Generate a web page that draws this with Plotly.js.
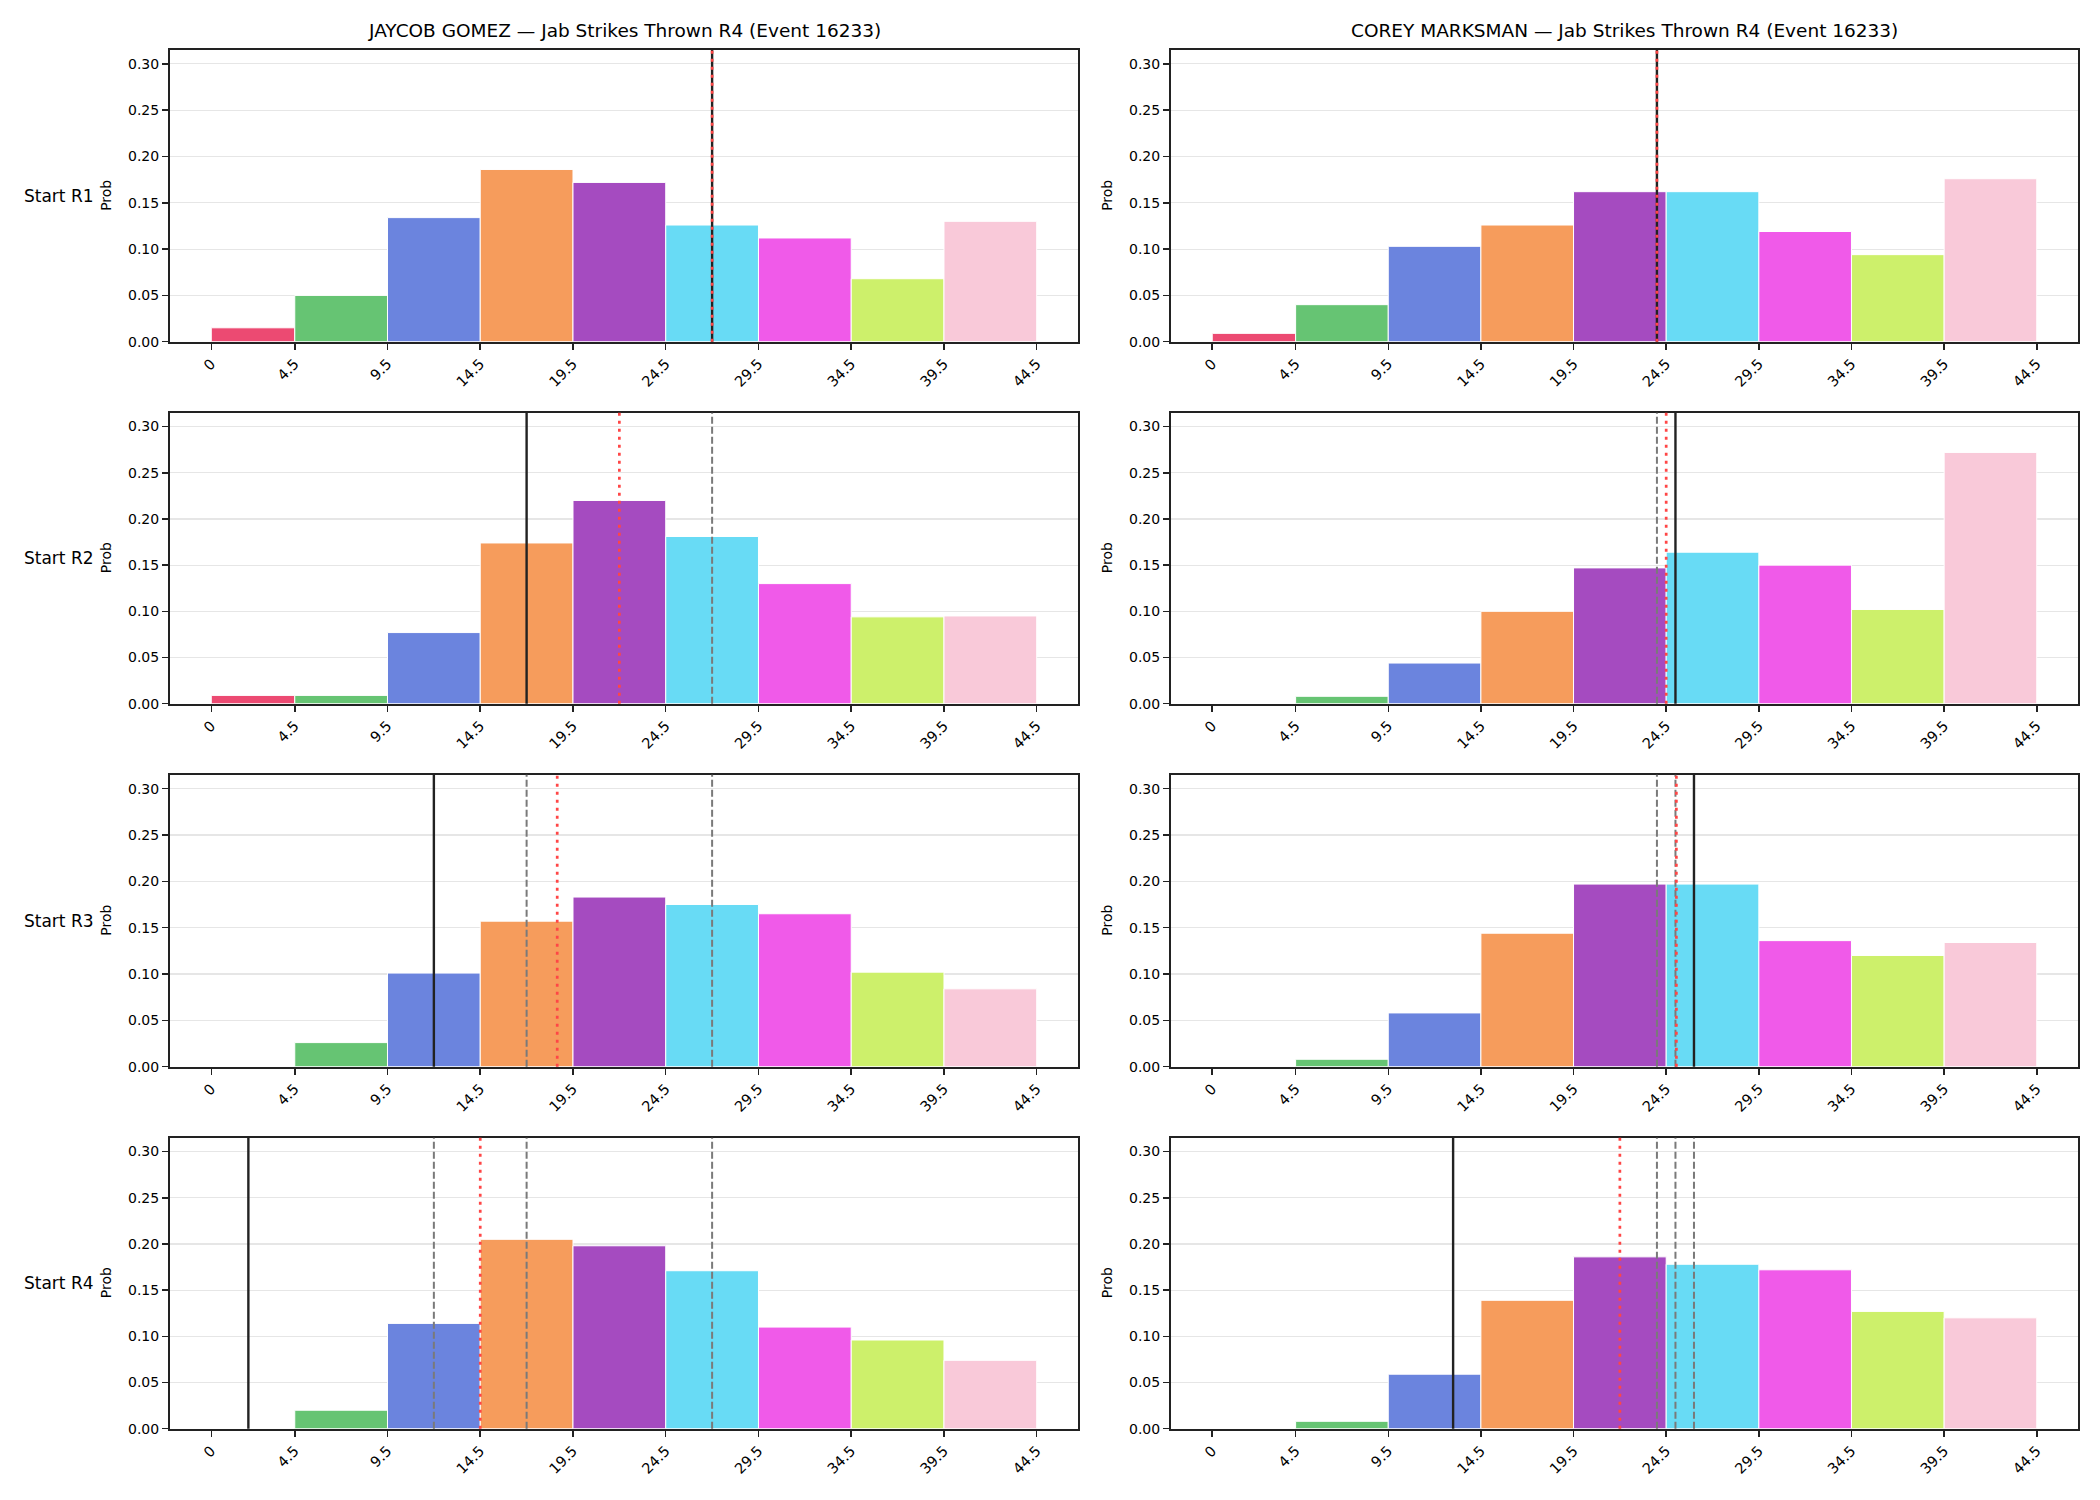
<!DOCTYPE html>
<html>
<head>
<meta charset="utf-8">
<script src="https://cdn.plot.ly/plotly-3.0.1.min.js"></script>
<style>
  html, body { margin: 0; padding: 0; background: #ffffff; }
  #chart { width: 2100px; height: 1500px; }
</style>
</head>
<body>
<div id="chart"></div>
<script>
// Bin edges of the jab-count histogram and their tick labels
const binEdges = [0, 4.5, 9.5, 14.5, 19.5, 24.5, 29.5, 34.5, 39.5, 44.5];
const tickLabels = ['0', '4.5', '9.5', '14.5', '19.5', '24.5', '29.5', '34.5', '39.5', '44.5'];
const binColors = ['#ec4a72', '#66c473', '#6b84de', '#f69c5c', '#a54bc0',
                   '#68dbf5', '#f05ae9', '#cdf06b', '#f9c9d9'];

const fighterNames = ['JAYCOB GOMEZ', 'COREY MARKSMAN'];
const roundLabels = ['Start R1', 'Start R2', 'Start R3', 'Start R4'];
const chartSubtitle = 'Jab Strikes Thrown R4 (Event 16233)';

// Probability per bin, one array per fighter and starting round
const gomezR1 = [0.015, 0.050, 0.134, 0.186, 0.172, 0.126, 0.112, 0.068, 0.130];
const gomezR2 = [0.009, 0.009, 0.077, 0.174, 0.220, 0.181, 0.130, 0.094, 0.095];
const gomezR3 = [0.000, 0.026, 0.101, 0.157, 0.183, 0.175, 0.165, 0.102, 0.084];
const gomezR4 = [0.000, 0.020, 0.114, 0.205, 0.198, 0.171, 0.110, 0.096, 0.074];

const marksmanR1 = [0.009, 0.040, 0.103, 0.126, 0.162, 0.162, 0.119, 0.094, 0.176];
const marksmanR2 = [0.000, 0.008, 0.044, 0.100, 0.147, 0.164, 0.150, 0.102, 0.272];
const marksmanR3 = [0.000, 0.008, 0.058, 0.144, 0.197, 0.197, 0.136, 0.120, 0.134];
const marksmanR4 = [0.000, 0.008, 0.059, 0.139, 0.186, 0.178, 0.172, 0.127, 0.120];

// Projected jab totals at the start of each round (solid), earlier ones shown dashed
const gomezProjection = [27, 17, 12, 2];
const marksmanProjection = [24, 25, 26, 13];
// Reference marker per round (dotted red)
const gomezMarker = [27, 22, 18.65, 14.5];
const marksmanMarker = [24, 24.5, 25.05, 22];

const probs = [
  [gomezR1, gomezR2, gomezR3, gomezR4],
  [marksmanR1, marksmanR2, marksmanR3, marksmanR4]
];
const projections = [gomezProjection, marksmanProjection];
const markers = [gomezMarker, marksmanMarker];

const W = 2100, H = 1500;
const FONT = 'DejaVu Sans, sans-serif';
// Panel geometry in pixels
const colX = [[170, 1078], [1171, 2078]];
const rowY = [[50, 341.7], [412.7, 703.7], [774.7, 1066.7], [1137.7, 1428.7]];

const centers = binEdges.slice(0, -1).map((e, i) => (e + binEdges[i + 1]) / 2);
const widths = binEdges.slice(0, -1).map((e, i) => binEdges[i + 1] - e);

const data = [];
const layout = {
  width: W, height: H,
  margin: {l: 0, r: 0, t: 0, b: 0},
  paper_bgcolor: '#ffffff',
  plot_bgcolor: '#ffffff',
  showlegend: false,
  bargap: 0,
  font: {family: FONT, size: 14, color: '#000000'},
  shapes: [],
  annotations: []
};

let n = 0;
for (let r = 0; r < 4; r++) {
  for (let c = 0; c < 2; c++) {
    n++;
    const xa = n === 1 ? 'xaxis' : 'xaxis' + n;
    const ya = n === 1 ? 'yaxis' : 'yaxis' + n;
    const xr = n === 1 ? 'x' : 'x' + n;
    const yr = n === 1 ? 'y' : 'y' + n;

    data.push({
      type: 'bar',
      x: centers,
      y: probs[c][r],
      width: widths,
      xaxis: xr, yaxis: yr,
      marker: {color: binColors, line: {color: '#ffffff', width: 1}},
      hoverinfo: 'x+y'
    });

    layout[xa] = {
      domain: [colX[c][0] / W, colX[c][1] / W],
      anchor: yr,
      range: [-2.225, 46.725],
      tickmode: 'array',
      tickvals: binEdges,
      ticktext: tickLabels,
      tickangle: -45,
      ticks: 'outside', ticklen: 6, tickwidth: 1.5, tickcolor: '#222222',
      showline: true, linecolor: '#222222', linewidth: 2, mirror: true,
      showgrid: false, zeroline: false,
      tickfont: {family: FONT, size: 14.5, color: '#000000'}
    };
    layout[ya] = {
      domain: [1 - rowY[r][1] / H, 1 - rowY[r][0] / H],
      anchor: xr,
      range: [0, 0.315],
      tickmode: 'array',
      tickvals: [0, 0.05, 0.10, 0.15, 0.20, 0.25, 0.30],
      tickformat: '.2f',
      ticks: 'outside', ticklen: 6, tickwidth: 1.5, tickcolor: '#222222',
      showline: true, linecolor: '#222222', linewidth: 2, mirror: true,
      showgrid: true, gridcolor: '#e6e6e6', gridwidth: 1.2,
      zeroline: false,
      tickfont: {family: FONT, size: 14, color: '#000000'}
    };

    // Earlier projections (dashed grey)
    for (let p = 0; p < r; p++) {
      layout.shapes.push({
        type: 'line', xref: xr, yref: yr + ' domain',
        x0: projections[c][p], x1: projections[c][p], y0: 0, y1: 1,
        line: {color: '#7a7a7a', width: 2, dash: '7px,3px'}, layer: 'above'
      });
    }
    // Current projection (solid black)
    layout.shapes.push({
      type: 'line', xref: xr, yref: yr + ' domain',
      x0: projections[c][r], x1: projections[c][r], y0: 0, y1: 1,
      line: {color: '#222222', width: 2.4}, layer: 'above'
    });
    // Reference marker (dotted red)
    layout.shapes.push({
      type: 'line', xref: xr, yref: yr + ' domain',
      x0: markers[c][r], x1: markers[c][r], y0: 0, y1: 1,
      line: {color: '#ff4646', width: 2.7, dash: '3px,5px'}, layer: 'above'
    });

    // "Prob" axis label
    layout.annotations.push({
      xref: 'paper', yref: 'paper',
      x: (colX[c][0] - 64) / W, y: 1 - (rowY[r][0] + rowY[r][1]) / 2 / H,
      xanchor: 'center', yanchor: 'middle',
      text: 'Prob', textangle: -90, showarrow: false,
      font: {family: FONT, size: 14, color: '#000000'}
    });
  }
  // Row label on the left
  layout.annotations.push({
    xref: 'paper', yref: 'paper',
    x: 22 / W, y: 1 - (rowY[r][0] + rowY[r][1]) / 2 / H,
    xanchor: 'left', yanchor: 'middle',
    text: roundLabels[r], showarrow: false,
    font: {family: FONT, size: 17, color: '#000000'}
  });
}

// Column titles
for (let c = 0; c < 2; c++) {
  layout.annotations.push({
    xref: 'paper', yref: 'paper',
    x: (colX[c][0] + colX[c][1]) / 2 / W, y: 1 - 31 / H,
    xanchor: 'center', yanchor: 'middle',
    text: fighterNames[c] + ' \u2014 ' + chartSubtitle, showarrow: false,
    font: {family: FONT, size: 18.5, color: '#000000'}
  });
}

Plotly.newPlot('chart', data, layout, {staticPlot: true, displayModeBar: false});
</script>
</body>
</html>
